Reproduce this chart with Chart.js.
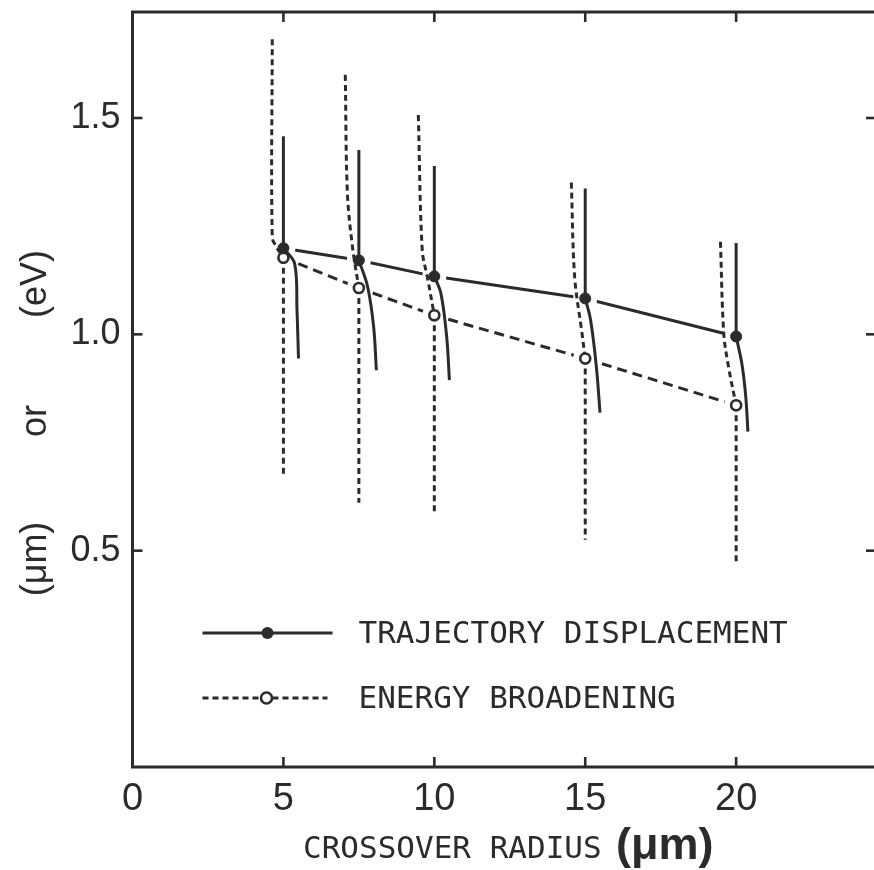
<!DOCTYPE html>
<html><head><meta charset="utf-8">
<script src="https://cdn.jsdelivr.net/npm/chart.js@4.4.0/dist/chart.umd.min.js"></script>
<style>
html,body{margin:0;padding:0;background:#fff;overflow:hidden;width:874px;height:870px}
#wrap{position:absolute;left:0;top:0;width:892px;height:870px}
</style></head><body><div id="wrap"><canvas id="c" width="892" height="870"></canvas></div>
<script>
// ---- data ----
const radius = [5, 7.5, 10, 15, 20];
const trajectory = [1.199, 1.171, 1.134, 1.083, 0.995];
const energy = [1.177, 1.107, 1.044, 0.944, 0.836];
const trajectoryUpper = [1.458, 1.426, 1.389, 1.337, 1.211];
const energyLower = [0.676, 0.611, 0.591, 0.525, 0.473];
// curved lower branches of the solid bars (x list and y list per point)
const trajBranchX = [[5, 5.37, 5.45, 5.50], [7.5, 7.79, 7.99, 8.08], [10, 10.22, 10.41, 10.50], [15, 15.18, 15.37, 15.49], [20, 20.19, 20.32, 20.39]];
const trajBranchY = [[1.199, 1.164, 1.056, 0.944], [1.171, 1.110, 1.017, 0.917], [1.134, 1.094, 0.994, 0.894], [1.083, 1.032, 0.924, 0.819], [0.995, 0.932, 0.855, 0.775]];
// curved upper branches of the dashed bars
const enBranchX = [[4.63, 4.63, 4.77, 5], [7.05, 7.12, 7.29, 7.5], [9.47, 9.60, 9.77, 10], [14.54, 14.65, 14.88, 15], [19.48, 19.59, 19.75, 20]];
const enBranchY = [[1.682, 1.225, 1.202, 1.177], [1.600, 1.326, 1.201, 1.107], [1.507, 1.194, 1.132, 1.044], [1.351, 1.132, 1.009, 0.944], [1.214, 1.002, 0.924, 0.836]];
const xTicks = [0, 5, 10, 15, 20];
const yTicks = [0.5, 1.0, 1.5];
const xMin = 0, xMax = 24.7, yMin = 0, yMax = 1.745;
const legendLabels = ['TRAJECTORY DISPLACEMENT', 'ENERGY BROADENING'];
const xTitleMain = 'CROSSOVER RADIUS', xTitleUnit = '(μm)';
const yTitleParts = ['(μm)', 'or', '(eV)'];

const INK = '#2b2b2b';
const DASH_V = [6, 4];
const DASH_L = [10, 6];
const LW = 3;

const datasets = [];
// connecting lines
datasets.push({type: 'line', data: radius.map((x, i) => ({x, y: trajectory[i]})), borderColor: INK, borderWidth: 3, pointRadius: 0, tension: 0, order: 10});
datasets.push({type: 'line', data: radius.map((x, i) => ({x, y: energy[i]})), borderColor: INK, borderWidth: 3, borderDash: DASH_L, pointRadius: 0, tension: 0, order: 10});
// white halos (pen-lift gaps around markers)
datasets.push({type: 'scatter', data: radius.map((x, i) => ({x, y: trajectory[i]})).concat(radius.map((x, i) => ({x, y: energy[i]}))), pointRadius: 12, pointBackgroundColor: '#ffffff', pointBorderWidth: 0, borderColor: 'rgba(0,0,0,0)', order: 9});
// vertical bars
radius.forEach((x, i) => {
  datasets.push({type: 'line', data: [{x, y: trajectory[i]}, {x, y: trajectoryUpper[i]}], borderColor: INK, borderWidth: LW, pointRadius: 0, order: 5});
  datasets.push({type: 'line', data: trajBranchX[i].map((bx, k) => ({x: bx, y: trajBranchY[i][k]})), borderColor: INK, borderWidth: LW, pointRadius: 0, tension: 0.35, order: 5});
  datasets.push({type: 'line', data: [{x, y: energy[i]}, {x, y: energyLower[i]}], borderColor: INK, borderWidth: LW, borderDash: DASH_V, pointRadius: 0, order: 5});
  datasets.push({type: 'line', data: enBranchX[i].map((bx, k) => ({x: bx, y: enBranchY[i][k]})), borderColor: INK, borderWidth: LW, borderDash: DASH_V, pointRadius: 0, tension: 0.35, order: 5});
});
// markers
datasets.push({type: 'scatter', data: radius.map((x, i) => ({x, y: trajectory[i]})), pointRadius: 5.5, pointBackgroundColor: INK, pointBorderColor: INK, pointBorderWidth: 1, order: 1});
datasets.push({type: 'scatter', data: radius.map((x, i) => ({x, y: energy[i]})), pointRadius: 5, pointBackgroundColor: '#ffffff', pointBorderColor: INK, pointBorderWidth: 2.6, order: 1});

const framePlugin = {
  id: 'frame',
  afterDraw(chart) {
    const {ctx, chartArea: a, scales: {x, y}} = chart;
    ctx.save();
    ctx.strokeStyle = INK; ctx.lineWidth = 3; ctx.lineCap = 'square';
    ctx.beginPath();
    ctx.moveTo(a.right + 5, a.top); ctx.lineTo(a.left, a.top); ctx.lineTo(a.left, a.bottom); ctx.lineTo(a.right + 5, a.bottom);
    ctx.stroke();
    ctx.lineWidth = 2.6; ctx.lineCap = 'butt';
    const TL = 10;
    xTicks.filter(v => v > xMin).forEach(v => {
      const px = x.getPixelForValue(v);
      ctx.beginPath(); ctx.moveTo(px, a.bottom); ctx.lineTo(px, a.bottom - TL); ctx.stroke();
      ctx.beginPath(); ctx.moveTo(px, a.top); ctx.lineTo(px, a.top + TL); ctx.stroke();
    });
    yTicks.forEach(v => {
      const py = y.getPixelForValue(v);
      ctx.beginPath(); ctx.moveTo(a.left, py); ctx.lineTo(a.left + TL, py); ctx.stroke();
      ctx.beginPath(); ctx.moveTo(a.right, py); ctx.lineTo(a.right - TL - 2, py); ctx.stroke();
    });
    // legend
    ctx.fillStyle = INK; ctx.strokeStyle = INK;
    const lx0 = a.left + 70, lx1 = a.left + 200, lxc = a.left + 135;
    const ly1 = a.top + 621, ly2 = a.top + 686;
    ctx.lineWidth = 3; ctx.setLineDash([]);
    ctx.beginPath(); ctx.moveTo(lx0, ly1); ctx.lineTo(lx1, ly1); ctx.stroke();
    ctx.beginPath(); ctx.arc(lxc, ly1, 6, 0, Math.PI * 2); ctx.fill();
    ctx.setLineDash([6, 4]);
    ctx.beginPath(); ctx.moveTo(lx0, ly2); ctx.lineTo(lx1 - 5, ly2); ctx.stroke();
    ctx.setLineDash([]);
    ctx.fillStyle = '#fff'; ctx.lineWidth = 2.6;
    ctx.beginPath(); ctx.arc(lxc - 1, ly2, 5.5, 0, Math.PI * 2); ctx.fill(); ctx.stroke();
    ctx.fillStyle = INK;
    ctx.font = '31px "DejaVu Sans Mono"'; ctx.textBaseline = 'middle'; ctx.textAlign = 'left';
    ctx.fillText(legendLabels[0], a.left + 226, ly1 + 2);
    ctx.fillText(legendLabels[1], a.left + 226, ly2 + 2);
    // x title
    ctx.textBaseline = 'alphabetic';
    ctx.font = '31px "DejaVu Sans Mono"';
    ctx.fillText(xTitleMain, 303, 858);
    ctx.font = 'bold 45px "Liberation Sans"';
    ctx.fillText(xTitleUnit, 616, 859);
    // y title
    ctx.save();
    ctx.translate(36, 0); ctx.rotate(-Math.PI / 2);
    ctx.font = '36px "Liberation Sans"'; ctx.textAlign = 'center'; ctx.textBaseline = 'middle';
    const yc = [559, 421, 284];
    yTitleParts.forEach((t, i) => ctx.fillText(t, -yc[i], 0));
    ctx.restore();
    ctx.restore();
  }
};

const zeroPad = s => { s.paddingTop = 0; s.paddingBottom = 0; s.paddingLeft = 0; s.paddingRight = 0; };

new Chart(document.getElementById('c'), {
  data: {datasets},
  options: {
    responsive: false, animation: false,
    layout: {padding: {top: 12, right: 14, left: 0, bottom: 0}},
    plugins: {legend: {display: false}, tooltip: {enabled: false}},
    scales: {
      x: {type: 'linear', min: xMin, max: xMax,
        border: {display: false}, grid: {display: false, drawTicks: false},
        ticks: {autoSkip: false, maxRotation: 0, color: INK, padding: 10, font: {family: 'Liberation Sans', size: 38}},
        afterBuildTicks: s => { s.ticks = xTicks.map(v => ({value: v})); },
        afterFit: s => { s.height = 103; zeroPad(s); }},
      y: {type: 'linear', min: yMin, max: yMax,
        border: {display: false}, grid: {display: false, drawTicks: false},
        ticks: {autoSkip: false, color: INK, padding: 12, font: {family: 'Liberation Sans', size: 36}, callback: v => v.toFixed(1)},
        afterBuildTicks: s => { s.ticks = yTicks.map(v => ({value: v})); },
        afterFit: s => { s.width = 132.5; zeroPad(s); }}
    }
  },
  plugins: [framePlugin]
});
</script></body></html>
